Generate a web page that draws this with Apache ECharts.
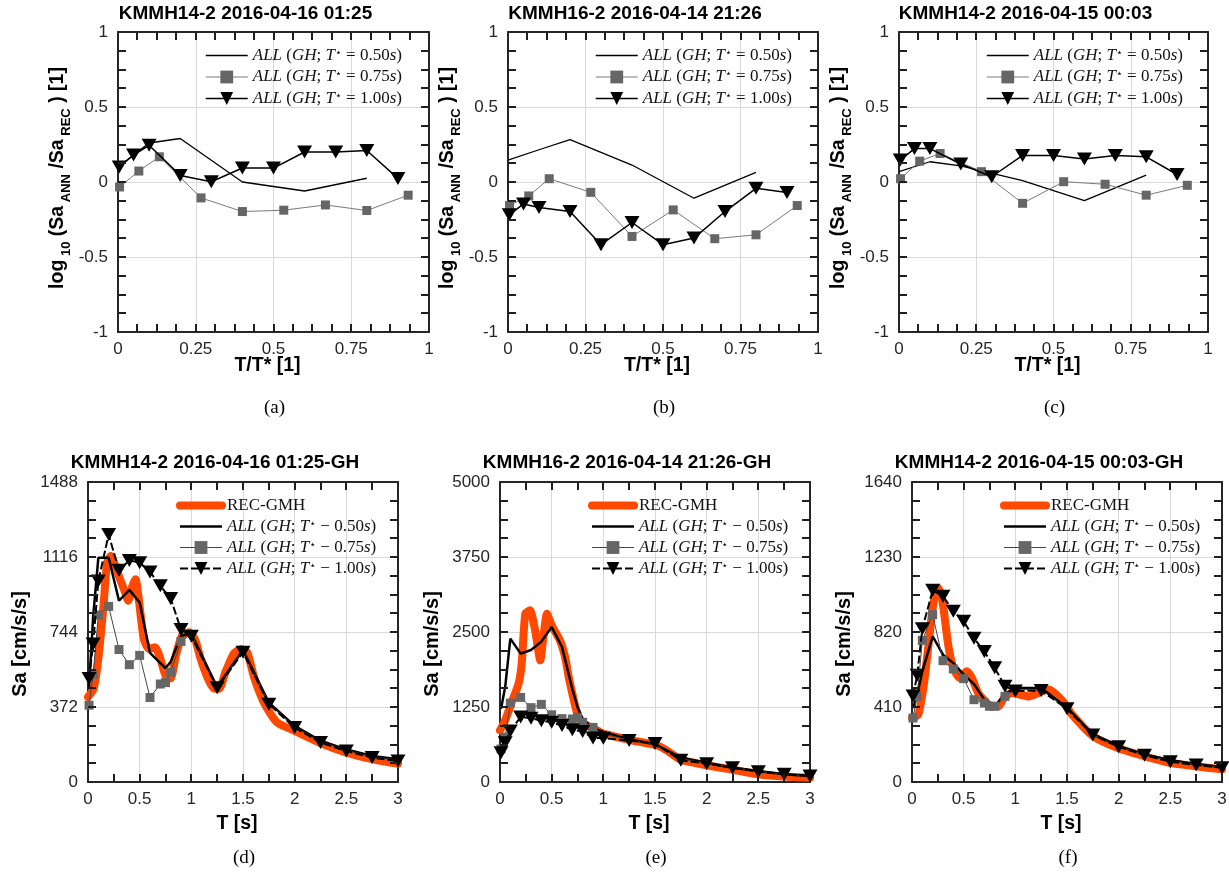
<!DOCTYPE html>
<html><head><meta charset="utf-8">
<script src="https://cdn.jsdelivr.net/npm/echarts@6/dist/echarts.min.js"></script>
<style>html,body{margin:0;padding:0;background:#fff}#c{width:1229px;height:877px}</style>
</head><body><div id="c"></div>
<script>
// ---------------- DATA ----------------
const TOP_X_050 = [0, 0.1, 0.2, 0.4, 0.6, 0.8];
const TOP_X_075 = [0.005, 0.067, 0.133, 0.267, 0.4, 0.533, 0.667, 0.8, 0.933];
const TOP_X_100 = [0.004, 0.05, 0.1, 0.2, 0.3, 0.4, 0.5, 0.6, 0.7, 0.8, 0.9];

const A_050 = [0.10, 0.26, 0.29, 0.0, -0.06, 0.025];
const A_075 = [-0.033, 0.073, 0.168, -0.106, -0.197, -0.188, -0.153, -0.19, -0.088];
const A_100 = [0.10, 0.18, 0.245, 0.044, 0.002, 0.093, 0.093, 0.2, 0.2, 0.21, 0.024];

const B_050 = [0.146, 0.215, 0.283, 0.113, -0.108, 0.064];
const B_075 = [-0.157, -0.093, 0.022, -0.069, -0.363, -0.186, -0.378, -0.352, -0.157];
const B_100 = [-0.219, -0.146, -0.17, -0.197, -0.418, -0.27, -0.418, -0.374, -0.197, -0.042, -0.07];

const C_050 = [0.069, 0.135, 0.108, 0.009, -0.124, 0.046];
const C_075 = [0.022, 0.139, 0.19, 0.069, -0.142, 0.002, -0.015, -0.088, -0.022];
const C_100 = [0.146, 0.223, 0.223, 0.12, 0.035, 0.177, 0.177, 0.153, 0.177, 0.168, 0.05];

const T_050 = [0.01, 0.05, 0.1, 0.2, 0.3, 0.4, 0.5, 0.6, 0.7, 0.75, 0.8, 0.9, 1.0, 1.25, 1.5, 1.75, 2.0, 2.25, 2.5, 2.75, 3.0];
const T_075 = [0.01, 0.05, 0.1, 0.2, 0.3, 0.4, 0.5, 0.6, 0.7, 0.75, 0.8, 0.9, 1.0, 1.25, 1.5, 1.75, 2.0, 2.25, 2.5, 2.75, 3.0];
const T_100 = [0.01, 0.05, 0.1, 0.2, 0.3, 0.4, 0.5, 0.6, 0.7, 0.8, 0.9, 1.0, 1.25, 1.5, 1.75, 2.0, 2.25, 2.5, 2.75, 3.0];

const T_D_REC = [0, 0.055, 0.1, 0.15, 0.185, 0.22, 0.265, 0.31, 0.36, 0.39, 0.43, 0.46, 0.49, 0.54, 0.59, 0.65, 0.7, 0.75, 0.8, 0.85, 0.91, 0.98, 1.04, 1.09, 1.16, 1.22, 1.27, 1.33, 1.41, 1.48, 1.54, 1.61, 1.71, 1.83, 2.0, 2.26, 2.5, 2.76, 3.0];
const D_REC = [422, 463, 611, 874, 1088, 1121, 1071, 1006, 940, 899, 973, 1006, 912, 710, 660, 668, 611, 529, 513, 628, 726, 743, 702, 611, 513, 463, 463, 545, 636, 660, 644, 515, 386, 295, 254, 191, 146, 113, 91];
const D_050 = [470, 820, 1112, 1112, 899, 953, 890, 640, 590, 565, 596, 725, 735, 471, 655, 394, 278, 204, 162, 129, 113];
const D_075 = [381, 534, 828, 871, 657, 582, 628, 419, 486, 493, 545, 697, 735, 470, 655, 390, 274, 200, 158, 125, 108];
const D_100 = [513, 685, 997, 1227, 1050, 1099, 1088, 1042, 973, 910, 756, 723, 467, 644, 386, 270, 196, 154, 121, 104];

const T_E_REC = [0, 0.05, 0.12, 0.18, 0.21, 0.245, 0.29, 0.34, 0.39, 0.42, 0.455, 0.5, 0.58, 0.63, 0.665, 0.7, 0.73, 0.76, 0.81, 0.91, 1.0, 1.26, 1.52, 1.62, 1.75, 2.0, 2.27, 2.5, 2.75, 3.0];
const E_REC = [861, 1028, 1361, 1639, 1972, 2806, 2861, 2528, 2028, 2417, 2806, 2611, 2361, 2083, 1750, 1472, 1250, 1083, 972, 889, 806, 700, 610, 520, 370, 280, 200, 130, 90, 70];
const E_050 = [1222, 1583, 2389, 2139, 2200, 2340, 2583, 2250, 1550, 1250, 1050, 900, 833, 711, 628, 406, 322, 239, 183, 128, 100];
const E_075 = [550, 750, 1314, 1410, 1239, 1294, 1120, 1056, 1050, 1078, 995, 910, 800, 700, 620, 385, 315, 240, 178, 128, 100];
const E_100 = [489, 656, 850, 1083, 1064, 1022, 995, 940, 870, 840, 735, 730, 690, 640, 361, 306, 239, 172, 128, 100];

const T_F_REC = [0, 0.06, 0.11, 0.16, 0.21, 0.26, 0.30, 0.35, 0.40, 0.46, 0.53, 0.58, 0.64, 0.71, 0.77, 0.835, 0.90, 0.965, 1.05, 1.13, 1.22, 1.32, 1.38, 1.46, 1.55, 1.75, 1.98, 2.24, 2.48, 2.73, 3.0];
const F_REC = [350, 368, 514, 751, 988, 1060, 969, 751, 623, 569, 605, 569, 486, 441, 414, 414, 468, 486, 477, 468, 486, 505, 486, 441, 368, 251, 188, 142, 106, 87, 69];
const F_050 = [404, 477, 605, 796, 696, 650, 587, 535, 450, 425, 414, 480, 514, 514, 406, 261, 197, 151, 120, 97, 82];
const F_075 = [350, 468, 774, 915, 663, 618, 565, 450, 432, 414, 414, 468, 505, 505, 400, 258, 195, 148, 115, 95, 80];
const F_100 = [470, 583, 838, 1048, 1016, 934, 879, 786, 713, 624, 524, 497, 500, 400, 257, 193, 146, 111, 93, 78];

const TITLES = ['KMMH14-2 2016-04-16 01:25', 'KMMH16-2 2016-04-14 21:26', 'KMMH14-2 2016-04-15 00:03',
                'KMMH14-2 2016-04-16 01:25-GH', 'KMMH16-2 2016-04-14 21:26-GH', 'KMMH14-2 2016-04-15 00:03-GH'];
const CAPTIONS = ['(a)', '(b)', '(c)', '(d)', '(e)', '(f)'];
const TOP_Y_RANGE = { min: -1, max: 1, interval: 0.5 };
const TOP_X_RANGE = { min: 0, max: 1, interval: 0.25 };
const BOT_X_RANGE = { min: 0, max: 3, interval: 0.5 };
const BOT_Y_MAX = [1488, 5000, 1640];
const BOT_Y_STEP = [372, 1250, 410];
const NAME_TOP = ['ALL (GH; T* = 0.50s)', 'ALL (GH; T* = 0.75s)', 'ALL (GH; T* = 1.00s)'];
const NAME_BOT = ['REC-GMH', 'ALL (GH; T* − 0.50s)', 'ALL (GH; T* − 0.75s)', 'ALL (GH; T* − 1.00s)'];
const T_VALS = ['0.50', '0.75', '1.00'];

// ---------------- LAYOUT / STYLE ----------------
const SANS = "'Liberation Sans', Arial, Helvetica, sans-serif";
const SERIF = "'Liberation Serif', 'Times New Roman', serif";
const FRAME = '#262626';
const ORANGE = '#ff4800';
const TICK_LEN = 8;
const TICK_W = 2;
const GRIDS = [
  { left: 118, top: 32, width: 311, height: 300 },
  { left: 508, top: 32, width: 310, height: 300 },
  { left: 899, top: 32, width: 309, height: 300 },
  { left: 88, top: 482, width: 310, height: 300 },
  { left: 500, top: 482, width: 310, height: 300 },
  { left: 912, top: 482, width: 310, height: 300 }
];

const zip = (xs, ys) => xs.map((x, i) => [x, ys[i]]);
const xAxes = [], yAxes = [], series = [], legends = [], graphics = [];

function axisBase(gi, r) {
  return {
    type: 'value', gridIndex: gi, min: r.min, max: r.max, interval: r.interval,
    axisLine: { show: true, onZero: false, lineStyle: { color: FRAME, width: 2 } },
    axisTick: { show: false },
    minorTick: { show: false },
    minorSplitLine: { show: false }
  };
}
function addAxes(gi, xr, yr) {
  xAxes.push(Object.assign(axisBase(gi, xr), {
    position: 'bottom',
    axisLabel: { show: true, margin: 9, fontSize: 17, color: FRAME, fontFamily: SANS, formatter: v => String(v) },
    splitLine: { show: true, lineStyle: { color: '#d9d9d9', width: 1 } }
  }));
  xAxes.push(Object.assign(axisBase(gi, xr), {
    position: 'top', axisLabel: { show: false }, splitLine: { show: false }
  }));
  yAxes.push(Object.assign(axisBase(gi, yr), {
    position: 'left',
    axisLabel: { show: true, margin: 10, fontSize: 17, color: FRAME, fontFamily: SANS, formatter: v => String(v) },
    splitLine: { show: true, lineStyle: { color: '#d9d9d9', width: 1 } }
  }));
  yAxes.push(Object.assign(axisBase(gi, yr), {
    position: 'right', axisLabel: { show: false }, splitLine: { show: false }
  }));
}

function legendRich(name) {
  if (name === 'REC-GMH') return '{n|REC-GMH}';
  const idx = Math.max(NAME_TOP.indexOf(name), NAME_BOT.indexOf(name) - 1);
  const sign = name.indexOf('−') >= 0 ? '−' : '=';
  return '{i|ALL} {n|(}{i|GH}{n|; }{i|T}{s|⋆}{n| ' + sign + ' ' + T_VALS[idx] + '}{i|s}{n|)}';
}
const LEG_RICH = {
  n: { fontFamily: SERIF, fontSize: 17, color: '#111', lineHeight: 16 },
  i: { fontFamily: SERIF, fontSize: 17, fontStyle: 'italic', color: '#111', lineHeight: 16 },
  s: { fontFamily: "'DejaVu Sans', sans-serif", fontSize: 11, color: '#111', lineHeight: 16, verticalAlign: 'top' }
};
const HIDE_SYM = { color: 'rgba(0,0,0,0)', borderWidth: 0 };

// ---------------- TOP ROW ----------------
const TOP_DATA = [[A_050, A_075, A_100], [B_050, B_075, B_100], [C_050, C_075, C_100]];
TOP_DATA.forEach((d, gi) => {
  addAxes(gi, TOP_X_RANGE, TOP_Y_RANGE);
  const xi = 2 * gi;
  series.push({ type: 'line', name: NAME_TOP[0], xAxisIndex: xi, yAxisIndex: xi, data: zip(TOP_X_050, d[0]),
    symbol: 'none', lineStyle: { color: '#000', width: 1.3 }, itemStyle: { color: '#000' }, z: 2 });
  series.push({ type: 'line', name: NAME_TOP[1], xAxisIndex: xi, yAxisIndex: xi, data: zip(TOP_X_075, d[1]),
    symbol: 'rect', symbolSize: 9, lineStyle: { color: '#7a7a7a', width: 1 }, itemStyle: { color: '#666' }, z: 3 });
  series.push({ type: 'line', name: NAME_TOP[2], xAxisIndex: xi, yAxisIndex: xi, data: zip(TOP_X_100, d[2]),
    symbol: 'triangle', symbolRotate: 180, symbolSize: [15, 13], lineStyle: { color: '#000', width: 1.5 }, itemStyle: { color: '#000' }, z: 4 });
  const g = GRIDS[gi];
  legends.push({
    orient: 'vertical', left: g.left + 87, top: 47, padding: 0, itemWidth: 42, itemHeight: 16, itemGap: 4.5,
    selectedMode: false, formatter: legendRich,
    textStyle: { rich: LEG_RICH, fontFamily: SERIF, fontSize: 17, lineHeight: 16 },
    data: [
      { name: NAME_TOP[0], itemStyle: HIDE_SYM, lineStyle: { width: 1.3 } },
      { name: NAME_TOP[1], lineStyle: { width: 1 } },
      { name: NAME_TOP[2], lineStyle: { width: 1.5 } }
    ]
  });
});

// ---------------- BOTTOM ROW ----------------
const BOT_DATA = [
  [T_D_REC, D_REC, D_050, D_075, D_100],
  [T_E_REC, E_REC, E_050, E_075, E_100],
  [T_F_REC, F_REC, F_050, F_075, F_100]
];
BOT_DATA.forEach((d, k) => {
  const gi = 3 + k;
  addAxes(gi, BOT_X_RANGE, { min: 0, max: BOT_Y_MAX[k], interval: BOT_Y_STEP[k] });
  const xi = 2 * gi;
  series.push({ type: 'line', name: NAME_BOT[0], xAxisIndex: xi, yAxisIndex: xi, data: zip(d[0], d[1]),
    symbol: 'none', smooth: 0.2, lineStyle: { color: ORANGE, width: 8, cap: 'round', join: 'round' }, itemStyle: { color: ORANGE }, z: 1 });
  series.push({ type: 'line', name: NAME_BOT[1], xAxisIndex: xi, yAxisIndex: xi, data: zip(T_050, d[2]),
    symbol: 'none', lineStyle: { color: '#000', width: 2.5 }, itemStyle: { color: '#000' }, z: 2 });
  series.push({ type: 'line', name: NAME_BOT[2], xAxisIndex: xi, yAxisIndex: xi,
    data: T_075.map((t, i) => t < 1 ? [t, d[3][i]] : { value: [t, d[3][i]], symbol: 'none' }),
    symbol: 'rect', symbolSize: 9, lineStyle: { color: '#444', width: 1 }, itemStyle: { color: '#666' }, z: 3 });
  series.push({ type: 'line', name: NAME_BOT[3], xAxisIndex: xi, yAxisIndex: xi, data: zip(T_100, d[4]),
    symbol: 'triangle', symbolRotate: 180, symbolSize: [15, 13], lineStyle: { color: '#000', width: 2, type: [8, 3] }, itemStyle: { color: '#000' }, z: 4 });
  const g = GRIDS[gi];
  legends.push({
    orient: 'vertical', left: g.left + 88, top: 497, padding: 0, itemWidth: 42, itemHeight: 16, itemGap: 4,
    selectedMode: false, formatter: legendRich,
    textStyle: { rich: LEG_RICH, fontFamily: SERIF, fontSize: 17, lineHeight: 16 },
    data: [
      { name: NAME_BOT[0], itemStyle: HIDE_SYM, lineStyle: { width: 8 } },
      { name: NAME_BOT[1], itemStyle: HIDE_SYM, lineStyle: { width: 2.5 } },
      { name: NAME_BOT[2], lineStyle: { width: 1 } },
      { name: NAME_BOT[3], lineStyle: { width: 2 } }
    ]
  });
});

// ---------------- TEXTS ----------------
GRIDS.forEach((g, gi) => {
  const cx = g.left + g.width / 2;
  const top = gi < 3;
  graphics.push({ type: 'text', x: cx - 28, y: top ? 14 : 463, z: 10,
    style: { text: TITLES[gi], fill: '#000', font: 'bold 19px ' + SANS, align: 'center', verticalAlign: 'middle' } });
  graphics.push({ type: 'text', x: cx - 6, y: top ? 366 : 824, z: 10,
    style: { text: top ? 'T/T* [1]' : 'T [s]', fill: '#000', font: 'bold 19.5px ' + SANS, align: 'center', verticalAlign: 'middle' } });
  graphics.push({ type: 'text', x: cx + 1, y: top ? 408 : 858, z: 10,
    style: { text: CAPTIONS[gi], fill: '#000', font: '19px ' + SERIF, align: 'center', verticalAlign: 'middle' } });
  if (top) {
    graphics.push({ type: 'text', x: g.left - 60, y: g.top + g.height / 2 - 4, rotation: Math.PI / 2, z: 10,
      style: {
        text: '{m|log}{sub| 10}{m| (Sa}{sub| ANN}{m| /Sa}{sub| REC}{m| ) [1]}',
        align: 'center', verticalAlign: 'middle',
        rich: {
          m: { fontFamily: SANS, fontWeight: 'bold', fontSize: 19.5, fill: '#000', color: '#000', lineHeight: 30 },
          sub: { fontFamily: SANS, fontWeight: 'bold', fontSize: 13, fill: '#000', color: '#000', lineHeight: 13, verticalAlign: 'bottom' }
        }
      } });
  } else {
    graphics.push({ type: 'text', x: g.left - 68, y: g.top + g.height / 2 + 12, rotation: Math.PI / 2, z: 10,
      style: { text: 'Sa [cm/s/s]', fill: '#000', font: 'bold 20px ' + SANS, align: 'center', verticalAlign: 'middle' } });
  }
});

// Inward tick marks on all four sides of every box (major + minor), drawn as small filled rects
const TICK_COLOR = '#1f1f1f';
GRIDS.forEach((g, gi) => {
  const s = gi < 3
    ? { xr: TOP_X_RANGE, xMinor: 4, yr: TOP_Y_RANGE, yMinor: 4 }
    : { xr: BOT_X_RANGE, xMinor: 2, yr: { min: 0, max: BOT_Y_MAX[gi - 3], interval: BOT_Y_STEP[gi - 3] }, yMinor: 4 };
  const right = g.left + g.width, bottom = g.top + g.height;
  const xn = Math.round((s.xr.max - s.xr.min) / s.xr.interval) * s.xMinor;
  for (let k = 1; k < xn; k++) {
    const px = Math.round(g.left + g.width * k / xn);
    graphics.push({ type: 'rect', z: 50, silent: true, shape: { x: px - TICK_W / 2, y: bottom - TICK_LEN, width: TICK_W, height: TICK_LEN }, style: { fill: TICK_COLOR } });
    graphics.push({ type: 'rect', z: 50, silent: true, shape: { x: px - TICK_W / 2, y: g.top, width: TICK_W, height: TICK_LEN }, style: { fill: TICK_COLOR } });
  }
  const yn = Math.round((s.yr.max - s.yr.min) / s.yr.interval) * s.yMinor;
  for (let k = 1; k < yn; k++) {
    const py = Math.round(bottom - g.height * k / yn);
    graphics.push({ type: 'rect', z: 50, silent: true, shape: { x: g.left, y: py - TICK_W / 2, width: TICK_LEN, height: TICK_W }, style: { fill: TICK_COLOR } });
    graphics.push({ type: 'rect', z: 50, silent: true, shape: { x: right - TICK_LEN, y: py - TICK_W / 2, width: TICK_LEN, height: TICK_W }, style: { fill: TICK_COLOR } });
  }
});

const chart = echarts.init(document.getElementById('c'), null, { renderer: 'canvas' });
chart.setOption({
  animation: false,
  backgroundColor: '#fff',
  grid: GRIDS.map(g => Object.assign({ containLabel: false, outerBoundsMode: 'none' }, g)),
  xAxis: xAxes,
  yAxis: yAxes,
  legend: legends,
  series: series,
  graphic: { elements: graphics }
});
</script></body></html>
